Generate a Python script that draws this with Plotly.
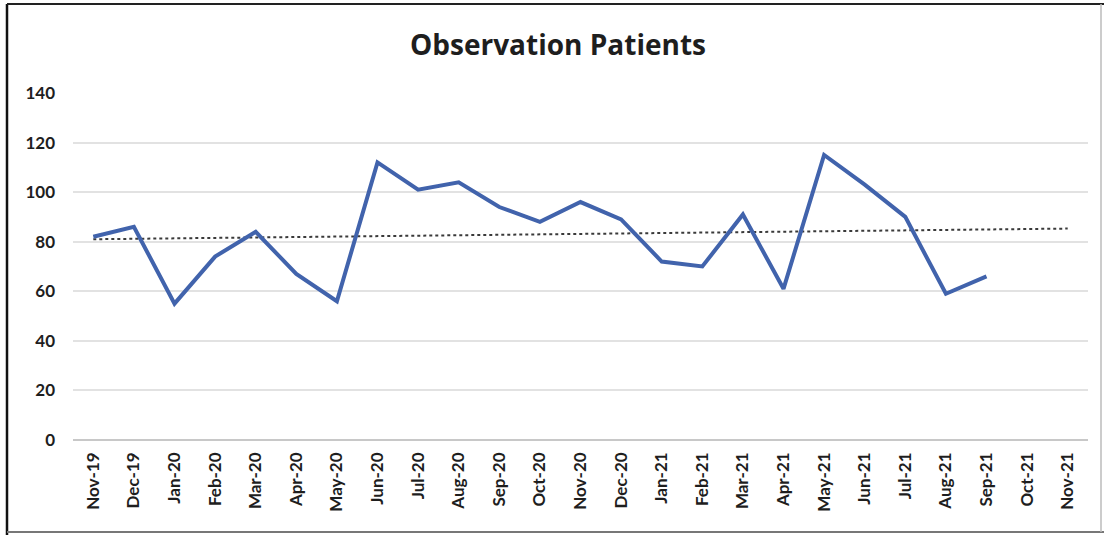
import plotly.graph_objects as go

# Monthly categories on the x axis
months = [
    "Nov-19", "Dec-19", "Jan-20", "Feb-20", "Mar-20", "Apr-20", "May-20",
    "Jun-20", "Jul-20", "Aug-20", "Sep-20", "Oct-20", "Nov-20", "Dec-20",
    "Jan-21", "Feb-21", "Mar-21", "Apr-21", "May-21", "Jun-21", "Jul-21",
    "Aug-21", "Sep-21", "Oct-21", "Nov-21",
]

# Observation patients per month (Nov-19 .. Sep-21)
patients = [
    82, 86, 55, 74, 84, 67, 56, 112, 101, 104, 94, 88, 96, 89,
    72, 70, 91, 61, 115, 103, 90, 59, 66,
]

# Linear trend endpoints (first and last month)
trend_start = 81
trend_end = 85.3

y_ticks = [0, 20, 40, 60, 80, 100, 120, 140]

W, H = 1104, 535
L, R, T, B = 73, 16, 93, 95
PW, PH = W - L - R, H - T - B


def px(x):
    return (x - L) / PW


def py(y):
    return (H - B - y) / PH


fig = go.Figure()

fig.add_trace(go.Scatter(
    x=[months[0], months[-1]],
    y=[trend_start, trend_end],
    mode="lines",
    line=dict(color="#3a3a3a", width=2, dash="dot"),
    showlegend=False,
    hoverinfo="skip",
))

fig.add_trace(go.Scatter(
    x=months[:len(patients)],
    y=patients,
    mode="lines",
    line=dict(color="#4163ac", width=4),
    showlegend=False,
    name="Observation Patients",
))

fig.update_layout(
    width=W,
    height=H,
    margin=dict(l=L, r=R, t=T, b=B),
    paper_bgcolor="white",
    plot_bgcolor="white",
    title=dict(
        text="<b>Observation Patients</b>",
        x=558 / W,
        xanchor="center",
        y=1 - 45 / H,
        yanchor="middle",
        font=dict(family="Open Sans, Lato, sans-serif", size=28, color="#1e1e1e"),
    ),
    xaxis=dict(
        type="category",
        categoryorder="array",
        categoryarray=months,
        range=[-0.5, len(months) - 0.5],
        tickangle=-90,
        tickfont=dict(family="Lato, Open Sans, sans-serif", size=17,
                      color="#1e1e1e", weight="bold"),
        ticklabelstandoff=8,
        showgrid=False,
        showline=False,
        zeroline=False,
        ticks="",
    ),
    yaxis=dict(
        range=[0, 140],
        tickvals=y_ticks,
        tickfont=dict(family="Lato, Open Sans, sans-serif", size=17,
                      color="#1e1e1e", weight="bold"),
        ticklabelstandoff=17,
        showgrid=True,
        gridcolor="#e2e2e2",
        gridwidth=1.5,
        zeroline=True,
        zerolinecolor="#c8c8c8",
        zerolinewidth=1.5,
        showline=False,
        ticks="",
    ),
    shapes=[
        # chart frame
        dict(type="line", xref="paper", yref="paper",
             x0=px(7), x1=px(7), y0=py(4), y1=py(H), line=dict(color="#111", width=2.5)),
        dict(type="line", xref="paper", yref="paper",
             x0=px(7), x1=px(W), y0=py(4), y1=py(4), line=dict(color="#222", width=2)),
        dict(type="line", xref="paper", yref="paper",
             x0=px(7), x1=px(W), y0=py(532), y1=py(532), line=dict(color="#777", width=2)),
        dict(type="line", xref="paper", yref="paper",
             x0=px(1101), x1=px(1101), y0=py(4), y1=py(532), line=dict(color="#bbb", width=1.5)),
    ],
)

fig.write_html("out.html")
